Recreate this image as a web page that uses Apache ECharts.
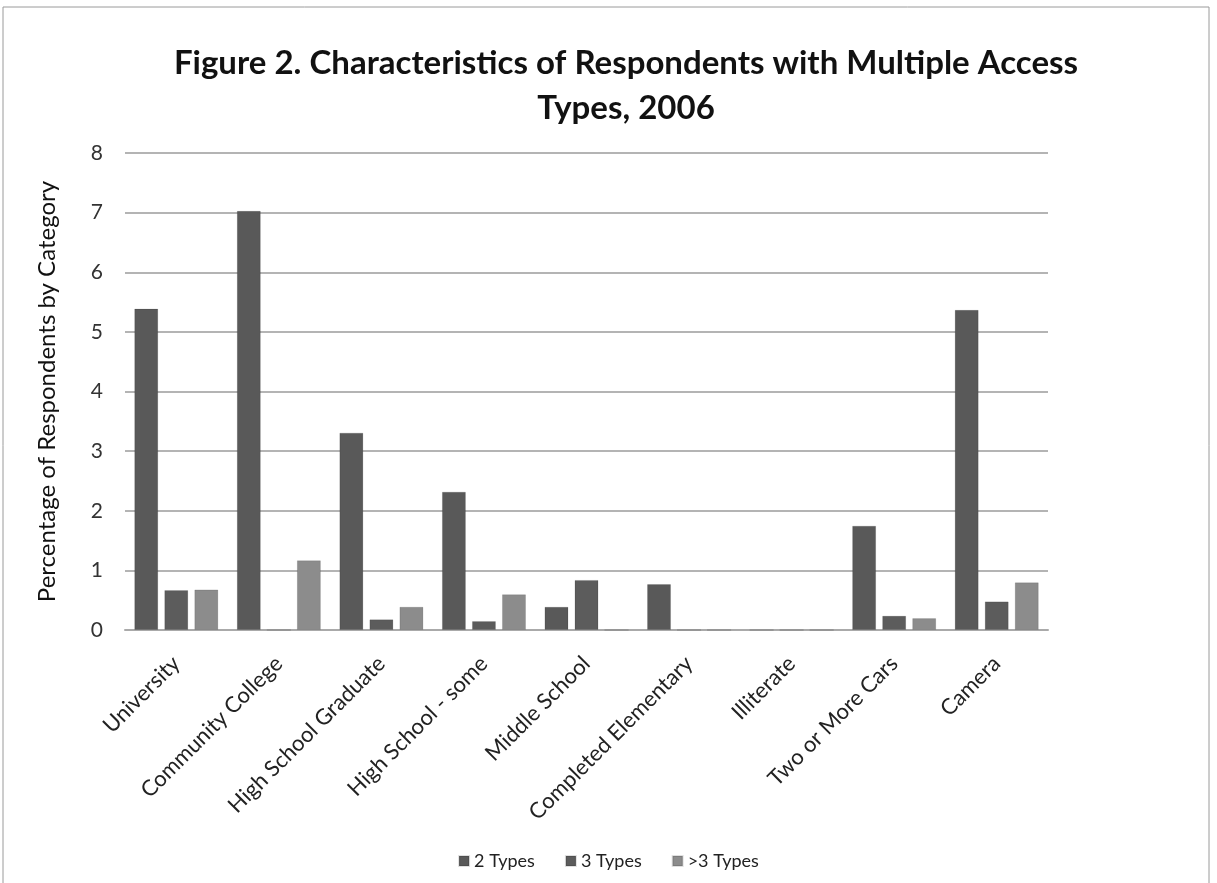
<!DOCTYPE html>
<html>
<head>
<meta charset="utf-8">
<script src="https://cdn.jsdelivr.net/npm/echarts@6/dist/echarts.min.js"></script>
<style>
  html, body { margin: 0; padding: 0; background: #fff; }
  #main { width: 1217px; height: 883px; }
</style>
</head>
<body>
<div id="main"></div>
<script>
// categories along the x axis
var categories = ['University', 'Community College', 'High School Graduate', 'High School - some',
  'Middle School', 'Completed Elementary', 'Illiterate', 'Two or More Cars', 'Camera'];

// series values (percent)
var twoTypes   = [5.39, 7.03, 3.31, 2.32, 0.39, 0.77, 0, 1.75, 5.37];
var threeTypes = [0.67, 0,    0.18, 0.15, 0.84, 0,    0, 0.24, 0.48];
var moreTypes  = [0.68, 1.17, 0.39, 0.60, 0,    0,    0, 0.20, 0.80];

var chart = echarts.init(document.getElementById('main'), null, { renderer: 'canvas' });

var font = 'Lato, "Open Sans", sans-serif';

function barSeries(name, data, color) {
  return {
    name: name,
    type: 'bar',
    data: data,
    barGap: '25%',
    barCategoryGap: '18%',
    itemStyle: {
      color: color,
      borderColor: 'rgba(0,0,0,0.12)',
      borderWidth: 1
    }
  };
}

var option = {
  backgroundColor: '#ffffff',
  animation: false,
  graphic: [{
    type: 'rect',
    shape: { x: 3, y: 7, width: 1206, height: 890 },
    style: { fill: 'none', stroke: '#9a9a9a', lineWidth: 1 },
    silent: true
  }],
  title: {
    text: 'Figure 2. Characteristics of Respondents with Multiple Access\nTypes, 2006',
    left: 621,
    top: 36,
    textAlign: 'center',
    textStyle: {
      fontFamily: font,
      fontSize: 33,
      fontWeight: 'bold',
      color: '#111',
      lineHeight: 45
    }
  },
  legend: {
    bottom: 8,
    left: 'center',
    itemWidth: 10,
    itemHeight: 10,
    itemGap: 30,
    icon: 'rect',
    textStyle: { fontFamily: font, fontSize: 18, color: '#222' },
    data: ['2 Types', '3 Types', '>3 Types']
  },
  grid: {
    left: 125,
    right: 169,
    top: 153,
    bottom: 253,
    containLabel: false
  },
  xAxis: {
    type: 'category',
    data: categories,
    axisTick: { show: false },
    axisLine: { lineStyle: { color: '#aaaaaa', width: 2 } },
    axisLabel: {
      rotate: 45,
      interval: 0,
      margin: 30,
      fontFamily: font,
      fontSize: 22,
      color: '#222'
    }
  },
  yAxis: {
    type: 'value',
    min: 0,
    max: 8,
    interval: 1,
    name: 'Percentage of Respondents by Category',
    nameLocation: 'middle',
    nameGap: 66,
    nameTextStyle: { fontFamily: font, fontSize: 24, color: '#111' },
    axisLine: { show: false },
    axisTick: { show: false },
    axisLabel: { fontFamily: font, fontSize: 21, color: '#333', margin: 22 },
    splitLine: { lineStyle: { color: '#b4b4b4', width: 2 } }
  },
  series: [
    barSeries('2 Types', twoTypes, '#595959'),
    barSeries('3 Types', threeTypes, '#5c5c5c'),
    barSeries('>3 Types', moreTypes, '#8c8c8c')
  ]
};

chart.setOption(option);
</script>
</body>
</html>
